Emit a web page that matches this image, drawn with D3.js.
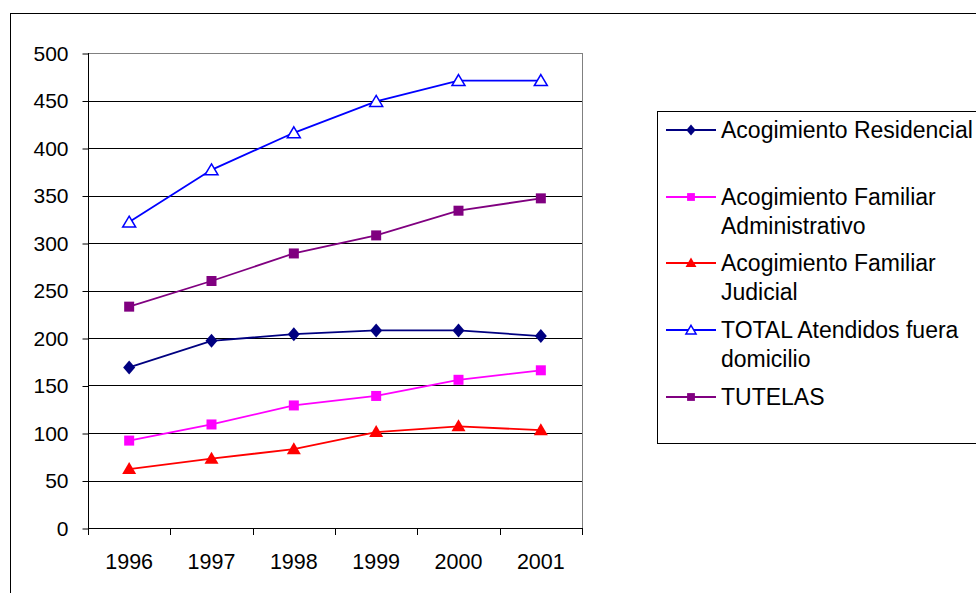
<!DOCTYPE html>
<html><head><meta charset="utf-8">
<script src="https://cdn.jsdelivr.net/npm/d3@7"></script>
<style>body{margin:0;background:#fff}svg{display:block;font-family:"Liberation Sans",Arial,sans-serif}</style>
</head><body>
<svg id="c" width="976" height="593"></svg>
<script>
const years = ["1996","1997","1998","1999","2000","2001"];
const yTicks = [0,50,100,150,200,250,300,350,400,450,500];
const residencial = [169,197,204,208,208,202];
const administrativo = [92,109,129,139,156,166];
const judicial = [62,73,83,101,107,103];
const total = [322,377,416,449,471,471];
const tutelas = [233,260,289,308,334,347];
const seriesNames = [["Acogimiento Residencial"],["Acogimiento Familiar","Administrativo"],["Acogimiento Familiar","Judicial"],["TOTAL Atendidos fuera","domicilio"],["TUTELAS"]];
const seriesColors = ["#000080","#FF00FF","#FF0000","#0000FF","#800080"];
const seriesMarkers = ["diamond","square","triangle","triangleOpen","square"];
const seriesValues = [residencial, administrativo, judicial, total, tutelas];

const svg = d3.select("#c");
svg.append("rect").attr("x",10.5).attr("y",13.5).attr("width",1000).attr("height",1000)
  .attr("fill","none").attr("stroke","#000").attr("stroke-width",1);

const L=88, R=582, T=53, B=528;
const x = d3.scaleBand().domain(years).range([L,R]);
const y = d3.scaleLinear().domain([0,500]).range([B,T]);

svg.append("g").selectAll("line").data(yTicks.filter(d=>d>0)).join("line")
  .attr("x1",L).attr("x2",R).attr("y1",d=>Math.round(y(d))+0.5).attr("y2",d=>Math.round(y(d))+0.5)
  .attr("stroke",d=>d===500?"#808080":"#000").attr("stroke-width",1);
svg.append("line").attr("x1",R+0.5).attr("x2",R+0.5).attr("y1",T).attr("y2",B).attr("stroke","#808080");

const ya = svg.append("g").attr("transform",`translate(${L+0.5},0.5)`)
  .call(d3.axisLeft(y).tickValues(yTicks).tickSize(6).tickPadding(14));
ya.select(".domain").attr("stroke","#000").attr("d",`M0,${B-0.5}V${T-0.5}`);
ya.selectAll(".tick line").attr("stroke","#000");
ya.selectAll("text").attr("font-size",21).attr("fill","#000").attr("font-family","Liberation Sans, Arial, sans-serif");

const xa = svg.append("g").attr("transform",`translate(0,${B+0.5})`)
  .call(d3.axisBottom(x).tickSize(0).tickPadding(25));
xa.select(".domain").attr("stroke","#000").attr("d",`M${L},0H${R}`);
xa.selectAll("text").attr("font-size",21.5).attr("fill","#000").attr("font-family","Liberation Sans, Arial, sans-serif");
const edges = years.map(d=>x(d)).concat([R]);
svg.append("g").selectAll("line").data(edges).join("line")
  .attr("x1",d=>Math.round(d)+0.5).attr("x2",d=>Math.round(d)+0.5).attr("y1",B).attr("y2",B+7).attr("stroke","#000");

function drawMarker(g, type, color, s){
  if(type==="diamond") g.append("path").attr("d",`M0,${-7*s}L${6*s},0L0,${7*s}L${-6*s},0Z`).attr("fill",color);
  else if(type==="square") g.append("rect").attr("x",-5*s).attr("y",-5*s).attr("width",10*s).attr("height",10*s).attr("fill",color);
  else if(type==="triangle") g.append("path").attr("d",`M0,${-7*s}L${7*s},${5*s}L${-7*s},${5*s}Z`).attr("fill",color);
  else g.append("path").attr("d",`M0,${-6*s}L${6.5*s},${5*s}L${-6.5*s},${5*s}Z`).attr("fill","#fff").attr("stroke",color).attr("stroke-width",1.5);
}

const line = d3.line().x((d,i)=>x(years[i])+x.bandwidth()/2).y(d=>y(d));
seriesValues.forEach((vals,k)=>{
  const g = svg.append("g");
  g.append("path").attr("d",line(vals)).attr("fill","none").attr("stroke",seriesColors[k]).attr("stroke-width",1.8);
  vals.forEach((v,i)=>{
    const m = g.append("g").attr("transform",`translate(${x(years[i])+x.bandwidth()/2},${y(v)})`);
    drawMarker(m, seriesMarkers[k], seriesColors[k], 1);
  });
});

const lg = svg.append("g");
lg.append("rect").attr("x",657.5).attr("y",111.5).attr("width",400).attr("height",332).attr("fill","none").attr("stroke","#000");
const legY = [130,197,263,330,397];
seriesNames.forEach((names,k)=>{
  const g = lg.append("g").attr("transform",`translate(0,${legY[k]})`);
  g.append("line").attr("x1",666).attr("x2",716).attr("y1",0).attr("y2",0).attr("stroke",seriesColors[k]).attr("stroke-width",1.8);
  const m = g.append("g").attr("transform","translate(691,0)");
  drawMarker(m, seriesMarkers[k], seriesColors[k], 0.78);
  names.forEach((t,j)=>{
    g.append("text").attr("x",721).attr("y",j*29).attr("dy","0.36em").attr("font-size",23).attr("fill","#000").text(t);
  });
});
</script>
</body></html>
